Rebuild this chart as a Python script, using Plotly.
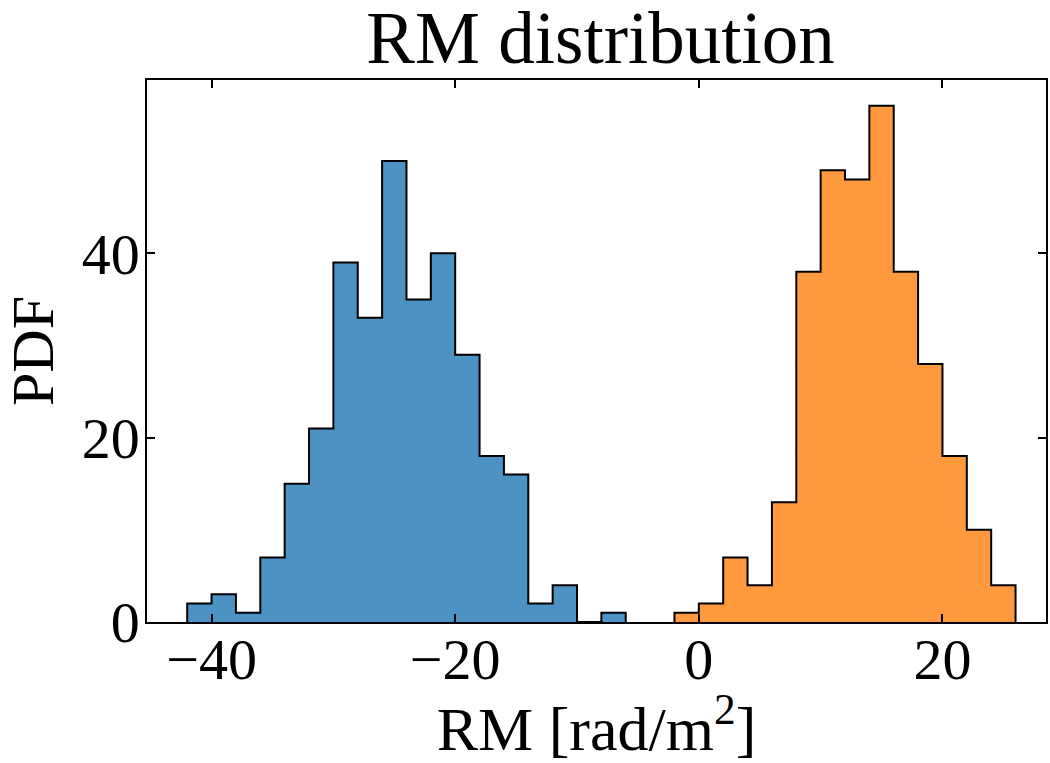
import plotly.graph_objects as go

# Histogram data (bin width 2)
bin_width = 2
blue_start = -42
blue_counts = [2, 3, 1, 7, 15, 21, 39, 33, 50, 35, 40, 29, 18, 16, 2, 4, 0, 1]
orange_start = -2
orange_counts = [1, 2, 7, 4, 13, 38, 49, 48, 56, 38, 28, 18, 10, 4]

x_ticks = [-40, -20, 0, 20]
y_ticks = [0, 20, 40]

FONT = "Liberation Serif, Times New Roman, serif"


def step_outline(start, counts, width):
    edges = [start + i * width for i in range(len(counts) + 1)]
    xs = [edges[0]] + edges[:-1] + [edges[-1]]
    ys = [0] + list(counts) + [0]
    return xs, ys


fig = go.Figure()
for start, counts, color in [
    (blue_start, blue_counts, "rgba(31,119,180,0.8)"),
    (orange_start, orange_counts, "rgba(255,127,14,0.8)"),
]:
    xs, ys = step_outline(start, counts, bin_width)
    fig.add_trace(go.Scatter(
        x=xs, y=ys, mode="lines", line=dict(shape="hv", color="black", width=2),
        fill="tozeroy", fillcolor=color, showlegend=False, hoverinfo="skip",
    ))

fig.update_layout(
    width=1050, height=763,
    margin=dict(l=147, r=2, t=80, b=141),
    paper_bgcolor="white", plot_bgcolor="white",
    font=dict(family=FONT, color="black", size=58),
    title=dict(text="RM distribution", x=0.572, xanchor="center",
               y=0.985, yanchor="top", yref="container",
               font=dict(size=73, family=FONT, color="black")),
    showlegend=False,
)
fig.update_xaxes(
    range=[-45.3, 28.5], tickvals=x_ticks, ticks="inside", ticklen=8, tickwidth=1.5,
    tickcolor="black", showline=True, linecolor="black", linewidth=1.5, mirror="ticks",
    showgrid=False, zeroline=False, ticklabelstandoff=-14,
    title=dict(text="RM [rad/m<sup>2</sup>]", font=dict(size=62, family=FONT), standoff=4),
    tickfont=dict(size=58, family=FONT),
)
fig.update_yaxes(
    range=[0, 58.8], tickvals=y_ticks, ticks="inside", ticklen=8, tickwidth=1.5,
    tickcolor="black", showline=True, linecolor="black", linewidth=1.5, mirror="ticks",
    showgrid=False, zeroline=False, ticklabelstandoff=-6,
    title=dict(text="PDF", font=dict(size=60, family=FONT), standoff=14),
    tickfont=dict(size=58, family=FONT),
)

fig.write_html("out.html")
